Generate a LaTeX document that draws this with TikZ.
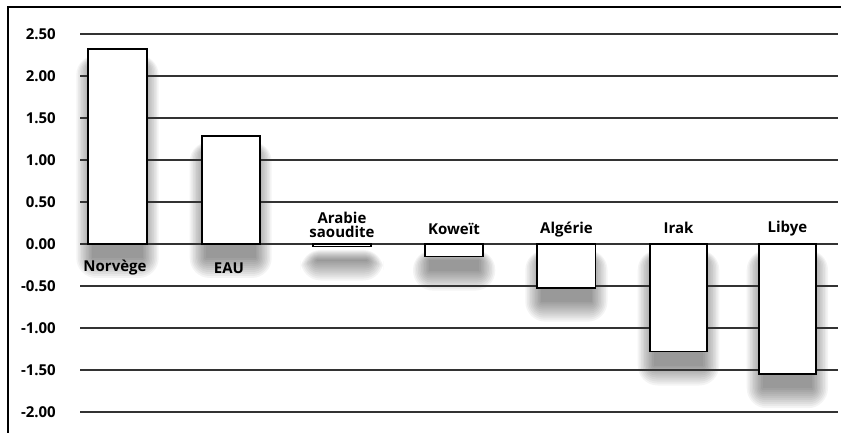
\documentclass[tikz,border=0pt]{standalone}
\usepackage{fontspec}
\setmainfont{Open Sans}
\begin{document}
\begin{tikzpicture}[x=1pt,y=1pt,
  grid/.style={line width=1.1pt,draw=black!80},
  bar/.style={draw=black,line width=1.8pt,fill=white},
  shadowlayer/.style={fill=black,fill opacity=0.042},
  ylab/.style={anchor=east,font=\bfseries\fontsize{15}{16}\selectfont,inner sep=0pt},
  clab/.style={font=\bfseries\fontsize{15}{16}\selectfont,inner sep=0pt,align=center}]
\useasboundingbox (0,0) rectangle (841,433);
\fill[white] (0,0) rectangle (841,433);
% frame
\draw[line width=2pt,black] (8.3,0) -- (8.3,425.7) -- (841,425.7);
% value -> y (pixel row 244 is zero)
\def\vy#1{189+84*(#1)}
% soft shadows
\foreach \xa/\xb/\v in {88.3/146.7/2.32, 201.7/259.7/1.29, 312.7/371.3/-0.03, 425/483.3/-0.15, 537.3/595.5/-0.52, 649.7/707.3/-1.28, 758.7/816/-1.55}{
  \pgfmathsetmacro{\ylo}{min(189,\vy{\v})-14}
  \pgfmathsetmacro{\yhi}{max(189,\vy{\v})-16}
  \foreach \e in {0,2,...,20}{
    \fill[shadowlayer,rounded corners={\e*1pt}] (\xa+4-0.8*\e,\ylo-\e) rectangle (\xb-4+0.8*\e,\yhi+0.5*\e);
  }
}
% gridlines and y labels
\foreach \v/\t in {2.5/2.50,2/2.00,1.5/1.50,1/1.00,0.5/0.50,0/0.00,-0.5/-0.50,-1/-1.00,-1.5/-1.50,-2/-2.00}{
  \draw[grid] (80,{\vy{\v}}) -- (838,{\vy{\v}});
  \node[ylab] at (56,{\vy{\v}}) {\t};
}
% bars
\foreach \xa/\xb/\v in {88.3/146.7/2.32, 201.7/259.7/1.29, 312.7/371.3/-0.03, 425/483.3/-0.15, 537.3/595.5/-0.52, 649.7/707.3/-1.28, 758.7/816/-1.55}{
  \draw[bar] (\xa,189) rectangle (\xb,{\vy{\v}});
}
% category labels (y = 433 - pixel row)
\node[clab] (no) at (115,165) {Norvège};
\node[clab] (ea) at (229,165) {EAU};
\node[clab] (as) at (342,208.5) {Arabie\\[-2pt]saoudite};
\node[clab] (ko) at (454,204.5) {Koweït};
\node[clab] (al) at (566.5,203) {Algérie};
\node[clab] (ir) at (678.5,205) {Irak};
\node[clab] (li) at (787.5,204.5) {Libye};
\end{tikzpicture}
\end{document}
